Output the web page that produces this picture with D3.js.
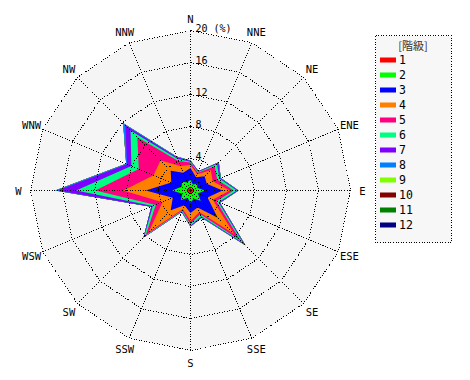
<!DOCTYPE html>
<html>
<head>
<meta charset="utf-8">
<script src="https://cdn.jsdelivr.net/npm/d3@7"></script>
<style>
  html, body { margin: 0; padding: 0; background: #ffffff; }
  svg { display: block; }
</style>
</head>
<body>
<script>
// 16 wind directions, clockwise from North
const directions = ["N","NNE","NE","ENE","E","ESE","SE","SSE","S","SSW","SW","WSW","W","WNW","NW","NNW"];
const classNames = ["1","2","3","4","5","6","7","8","9","10","11","12"];
const classColors = ["#ff0000","#00ff00","#0000ff","#ff8000","#ff0080","#00ff80","#8000ff","#0080ff","#80ff00","#800000","#008000","#000080"];
const radialTicks = [4, 8, 12, 16, 20];

// frequency (%) of each class per direction
const class1  = [0.3,0.2,0.3,0.3,0.5,0.3,0.4,0.3,0.4,0.3,0.4,0.3,0.5,0.3,0.4,0.3];
const class2  = [1.0,0.6,0.9,0.6,1.3,0.7,1.4,0.8,1.1,0.7,1.3,0.8,1.8,0.9,1.1,0.8];
const class3  = [1.5,1.0,1.3,1.3,2.2,1.3,3.0,1.2,1.3,1.0,1.8,1.3,3.3,1.4,2.0,1.3];
const class4  = [0.4,0.4,1.1,0.8,0.9,0.7,2.9,0.6,1.0,0.5,3.9,1.4,2.8,2.4,1.8,0.9];
const class5  = [0.3,0.2,0.7,0.6,0.5,0.5,1.1,0.3,0.4,0.2,0.5,0.9,3.5,2.0,4.1,0.7];
const class6  = [0.1,0.1,0.4,0.3,0.4,0.3,0.5,0.3,0.2,0.1,0.3,0.4,2.4,1.0,1.2,0.3];
const class7  = [0.1,0.1,0.2,0.1,0.15,0.15,0.3,0.1,0.1,0.05,0.1,0.2,2.3,0.6,0.9,0.2];
const class8  = [0.05,0.0,0.1,0.1,0.05,0.05,0.1,0.1,0.0,0.05,0.0,0.0,0.3,0.1,0.4,0.1];
const class9  = [0,0,0,0,0,0,0,0,0,0,0,0,0,0,0,0];
const class10 = [0,0,0,0,0,0,0,0,0,0,0,0,0,0,0,0];
const class11 = [0,0,0,0,0,0,0,0,0,0,0,0,0,0,0,0];
const class12 = [0,0,0,0,0,0,0,0,0,0,0,0,0,0,0,0];
const classSeries = [class1,class2,class3,class4,class5,class6,class7,class8,class9,class10,class11,class12];

const W = 470, H = 380;
const cx = 190.5, cy = 190.5, R = 160, maxVal = 20;

const svg = d3.select("body").append("svg").attr("width", W).attr("height", H);

const r = d3.scaleLinear().domain([0, maxVal]).range([0, R]);
const ang = d3.scaleBand().domain(directions).range([0, 2 * Math.PI]).align(0).paddingInner(0).paddingOuter(0);
const angleOf = d => ang(d); // N at 0, clockwise

const g = svg.append("g").attr("transform", `translate(${cx},${cy})`);

const polyLine = d3.lineRadial().angle(d => d[0]).radius(d => d[1]).curve(d3.curveLinearClosed);

// background polygon
g.append("path")
  .attr("d", polyLine(directions.map(d => [angleOf(d), r(maxVal)])))
  .attr("fill", "#f5f5f5")
  .attr("stroke", "none");

// cumulative stacks
const cumulative = [];
let running = directions.map(() => 0);
classSeries.forEach((s, i) => {
  running = running.map((v, j) => v + s[j]);
  cumulative.push(running.slice());
});

for (let i = classSeries.length - 1; i >= 0; i--) {
  g.append("path")
    .attr("d", polyLine(directions.map((d, j) => [angleOf(d), r(cumulative[i][j])])))
    .attr("fill", classColors[i])
    .attr("stroke", "none");
}

const dotted = sel => sel
  .attr("stroke", "#000")
  .attr("stroke-width", 1)
  .attr("stroke-dasharray", "1,1.6")
  .attr("shape-rendering", "crispEdges");

// grid rings
radialTicks.forEach(t => {
  g.append("path")
    .attr("d", polyLine(directions.map(d => [angleOf(d), r(t)])))
    .attr("fill", "none")
    .call(dotted);
});

// spokes
directions.forEach(d => {
  const a = angleOf(d);
  g.append("line")
    .attr("x1", 0).attr("y1", 0)
    .attr("x2", r(maxVal) * Math.sin(a))
    .attr("y2", -r(maxVal) * Math.cos(a))
    .call(dotted);
});

// tick labels
radialTicks.forEach(t => {
  g.append("text")
    .attr("x", 5)
    .attr("y", -r(t) + 1)
    .attr("font-family", "DejaVu Sans Mono, monospace")
    .attr("font-size", 10)
    .attr("fill", "#000")
    .text(t === maxVal ? `${t} (%)` : `${t}`);
});

// direction labels
directions.forEach(d => {
  const a = angleOf(d);
  const rr = 172;
  g.append("text")
    .attr("x", rr * Math.sin(a))
    .attr("y", -rr * Math.cos(a))
    .attr("text-anchor", "middle")
    .attr("dominant-baseline", "central")
    .attr("font-family", "DejaVu Sans Mono, monospace")
    .attr("font-size", 10.5)
    .attr("fill", "#000")
    .text(d);
});

// legend
const lg = svg.append("g");
lg.append("rect")
  .attr("x", 375.5).attr("y", 35.5)
  .attr("width", 76).attr("height", 207)
  .attr("fill", "#f7f7f7")
  .attr("stroke", "#000")
  .attr("stroke-width", 1)
  .attr("stroke-dasharray", "1,1.6")
  .attr("shape-rendering", "crispEdges");
lg.append("text")
  .attr("x", 413).attr("y", 45)
  .attr("text-anchor", "middle")
  .attr("dominant-baseline", "central")
  .attr("font-family", "Noto Sans CJK JP, sans-serif")
  .attr("font-size", 11)
  .attr("fill", "#333")
  .text("[階級]");
const ly = d3.scalePoint().domain(classNames).range([60, 225]);
classNames.forEach((c, i) => {
  lg.append("rect")
    .attr("x", 380).attr("y", ly(c) - 2.5)
    .attr("width", 16).attr("height", 5)
    .attr("fill", classColors[i]);
  lg.append("text")
    .attr("x", 399).attr("y", ly(c))
    .attr("dominant-baseline", "central")
    .attr("font-family", "DejaVu Sans Mono, monospace")
    .attr("font-size", 11.5)
    .attr("fill", "#000")
    .text(c);
});
</script>
</body>
</html>
